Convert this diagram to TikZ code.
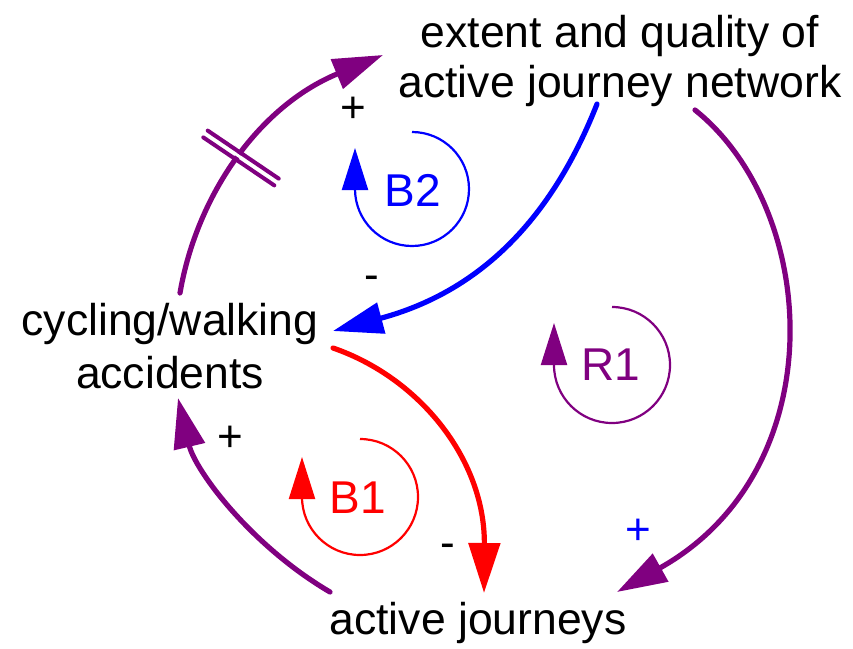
\documentclass[tikz,border=0pt]{standalone}
\usepackage{fontspec}
\setmainfont{Liberation Sans}
\usetikzlibrary{arrows.meta}
\definecolor{vpurple}{RGB}{128,0,128}
\begin{document}
\begin{tikzpicture}[x=1pt,y=-1pt,
  var/.style={inner sep=0pt, align=center, font=\fontsize{44.5}{50}\selectfont},
  link/.style={line width=5.2pt, line cap=round, -{Triangle[length=50pt,width=31pt]}},
  loopc/.style={line width=2.2pt, -{Triangle[length=42pt,width=26pt]}},
  loopl/.style={inner sep=0pt, font=\fontsize{46}{50}\selectfont},
  pol/.style={inner sep=0pt, font=\fontsize{44}{50}\selectfont},
  delaymark/.style={vpurple, line width=4pt, line cap=round}]
\useasboundingbox (0,0) rectangle (853,648);
% variables
\node[var] (ext) at (620,61) {extent and quality of\\active journey network};
\node[var, font=\fontsize{44.5}{53}\selectfont] (acc) at (170,346) {cycling/walking\\accidents};
\node[var, anchor=base] (aj) at (478,634) {active journeys};
% links
\draw[link, vpurple] ([shift={(10,-53)}]acc.center) .. controls (196.6,196) and (258.3,106.5) .. ([shift={(-237,-6)}]ext.center);
\draw[link, blue] ([shift={(-23,43)}]ext.center) .. controls (565,185) and (505,285) .. ([shift={(163,-15)}]acc.center);
\draw[link, red] ([shift={(163,2)}]acc.center) .. controls (420,378) and (485,460) .. ([shift={(6,-41)}]aj.base);
\draw[link, vpurple] ([shift={(-148,-42)}]aj.base) .. controls (250,545) and (195,470) .. ([shift={(8,52)}]acc.center);
\draw[link, vpurple] ([shift={(75,49)}]ext.center) .. controls (820,210) and (835,470) .. ([shift={(139,-42)}]aj.base);
% delay mark
\draw[white, line width=3pt] (205,133.5) -- (277,181.5);
\draw[delaymark] (207.7,130.6) -- (278.7,178.6) (203.3,137.4) -- (274.3,185.4);
% loop symbols
\draw[loopc, blue] (412,132) arc[start angle=90, end angle=-180, radius=57pt] -- ++(0,-41);
\draw[loopc, red] (360,439) arc[start angle=90, end angle=-180, radius=58pt] -- ++(0,-40);
\draw[loopc, vpurple] (612,307) arc[start angle=90, end angle=-180, radius=58pt] -- ++(0,-42);
\node[loopl, text=blue] (b2) at (413,190) {B2};
\node[loopl, text=red] (b1) at (358,498) {B1};
\node[loopl, text=vpurple] (r1) at (611,365) {R1};
% polarities
\node[pol] (p1) at (353,110) {+};
\node[pol] (p2) at (372,283) {-};
\node[pol] (p3) at (230,439) {+};
\node[pol] (p4) at (448,551) {-};
\node[pol, text=blue] (p5) at (638,532) {+};
\end{tikzpicture}
\end{document}
